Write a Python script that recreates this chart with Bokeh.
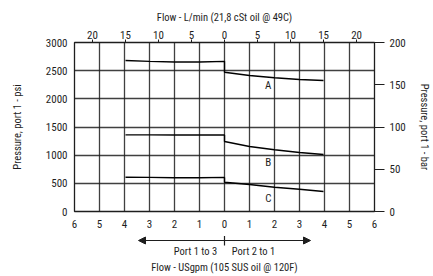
from bokeh.plotting import figure
from bokeh.layouts import column
from bokeh.models import Range1d, LinearAxis, FixedTicker, Arrow, NormalHead, Label
from bokeh.embed import file_html
from bokeh.resources import INLINE

# ---- data (flow in USgpm, pressure in psi) ----
flow_gpm = [-3.96, -3.0, -2.0, -1.0, 0.0, 0.0, 1.0, 2.0, 3.0, 3.96]
curve_a = [2680, 2665, 2655, 2655, 2665, 2473, 2414, 2373, 2343, 2325]
curve_b = [1360, 1360, 1358, 1358, 1360, 1243, 1154, 1095, 1047, 1012]
curve_c = [609, 605, 600, 600, 605, 520, 479, 431, 396, 355]
curve_names = ["A", "B", "C"]
curve_label_x = [1.75, 1.75, 1.75]
curve_label_y = [2237, 875, 231]

gpm_ticks = [-6, -5, -4, -3, -2, -1, 0, 1, 2, 3, 4, 5, 6]
lpm_ticks = [-20, -15, -10, -5, 0, 5, 10, 15, 20]
psi_ticks = [0, 500, 1000, 1500, 2000, 2500, 3000]
bar_ticks = [0, 50, 100, 150, 200]
direction_labels = ["Port 1 to 3", "Port 2 to 1"]
direction_x = [-1.16, 1.16]
GPM_TO_LPM = 3.785

FONT = "Roboto Condensed"
INK = "#1e1e1e"

p = figure(frame_width=300, frame_height=169, output_backend="svg", toolbar_location=None,
           x_range=Range1d(-6, 6), y_range=Range1d(0, 3000),
           min_border_left=74, min_border_right=59, min_border_top=42, min_border_bottom=24)
p.extra_x_ranges = {"lpm": Range1d(-6 * GPM_TO_LPM, 6 * GPM_TO_LPM)}
p.extra_y_ranges = {"bar": Range1d(0, 200)}
p.outline_line_color = INK
p.outline_line_width = 1.3

def style_axis(ax):
    ax.axis_line_color = None
    ax.minor_tick_line_color = None
    ax.major_label_text_font = FONT
    ax.major_label_text_font_size = "11px"
    ax.major_label_text_color = INK
    ax.axis_label_text_font = FONT
    ax.axis_label_text_font_size = "10.5px"
    ax.axis_label_text_font_style = "normal"
    ax.axis_label_text_color = INK
    ax.major_tick_line_color = INK
    ax.major_tick_in = 0

# bottom axis (gpm)
xb = p.xaxis[0]
xb.ticker = FixedTicker(ticks=gpm_ticks)
xb.major_label_overrides = {t: str(abs(t)) for t in gpm_ticks}
style_axis(xb)
xb.major_tick_out = 0
xb.major_label_standoff = 8

# left axis (psi)
yl = p.yaxis[0]
yl.ticker = FixedTicker(ticks=psi_ticks)
yl.axis_label = "Pressure, port 1 - psi"
style_axis(yl)
yl.major_tick_out = 0
yl.major_label_standoff = 7
yl.axis_label_standoff = 19

# top axis (L/min)
xt = LinearAxis(x_range_name="lpm", ticker=FixedTicker(ticks=lpm_ticks),
                axis_label="Flow - L/min (21,8 cSt oil @ 49C)")
xt.major_label_overrides = {t: str(abs(t)) for t in lpm_ticks}
style_axis(xt)
xt.major_tick_out = 3
xt.major_label_standoff = 1
xt.axis_label_standoff = 4
p.add_layout(xt, "above")

# right axis (bar)
yr = LinearAxis(y_range_name="bar", ticker=FixedTicker(ticks=bar_ticks),
                axis_label="Pressure, port 1 - bar")
style_axis(yr)
yr.major_tick_out = 10
yr.major_label_standoff = 5
yr.axis_label_standoff = 9
p.add_layout(yr, "right")

# grid
p.xgrid.ticker = FixedTicker(ticks=gpm_ticks)
p.ygrid.ticker = FixedTicker(ticks=psi_ticks)
for g in (p.xgrid[0], p.ygrid[0]):
    g.grid_line_color = INK
    g.grid_line_width = 1.3
    g.grid_line_alpha = 0.85

# curves
for ys in (curve_a, curve_b, curve_c):
    p.line(flow_gpm, ys, line_color="black", line_width=1.4)

for name, lx, ly in zip(curve_names, curve_label_x, curve_label_y):
    p.add_layout(Label(x=lx, y=ly, text=name, text_font=FONT, text_font_size="11px",
                       text_color=INK, text_align="center", text_baseline="middle"))

# ---- strip below: flow-direction arrows and bottom axis title ----
q = figure(frame_width=300, frame_height=41, output_backend="svg", toolbar_location=None,
           x_range=p.x_range, y_range=Range1d(0, 41),
           x_axis_location=None, y_axis_location=None,
           min_border_left=74, min_border_right=59, min_border_top=0, min_border_bottom=0)
q.outline_line_color = None
q.xgrid.visible = False
q.ygrid.visible = False

for x_end in (-3.44, 3.44):
    q.add_layout(Arrow(x_start=0, y_start=36, x_end=x_end, y_end=36,
                       line_color=INK, line_width=1.2,
                       end=NormalHead(size=7, fill_color=INK, line_color=INK)))
q.add_layout(Arrow(x_start=0, y_start=40.5, x_end=0, y_end=31,
                   line_color=INK, line_width=1.2, end=None))
for txt, tx in zip(direction_labels, direction_x):
    q.add_layout(Label(x=tx, y=25, text=txt, text_font=FONT, text_font_size="10.5px",
                       text_color=INK, text_align="center", text_baseline="middle"))
q.add_layout(Label(x=0, y=9, text="Flow - USgpm (105 SUS oil @ 120F)", text_font=FONT,
                   text_font_size="10.5px", text_color=INK, text_align="center",
                   text_baseline="middle"))

layout = column(p, q, spacing=0)
open("out.html", "w").write(file_html(layout, INLINE))
